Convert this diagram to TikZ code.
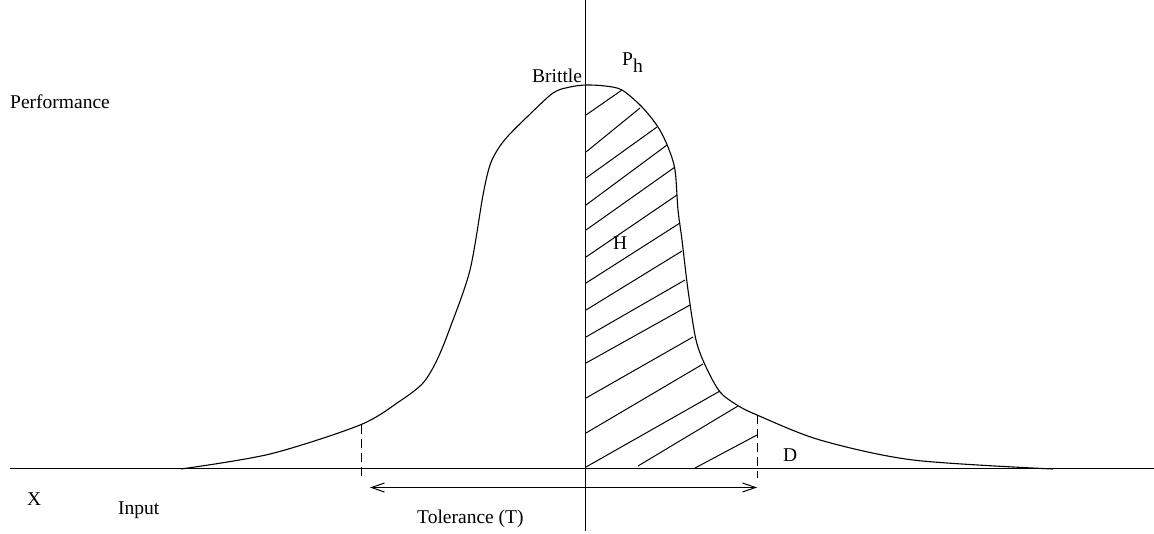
\documentclass[tikz,border=0pt]{standalone}
\usepackage{fontspec}
\setmainfont{Liberation Serif}
\usetikzlibrary{arrows.meta}
\begin{document}
\begin{tikzpicture}[x=1pt,y=-1pt,
  ln/.style={line width=1.1pt},
  hatch/.style={line width=1pt},
  dsh/.style={line width=1pt,dash pattern=on 9pt off 5pt},
  lbl/.style={inner sep=0pt,font=\fontsize{19.5}{23}\selectfont}]
\useasboundingbox (0,0) rectangle (1154,533);
% axes
\coordinate (xl) at (10,468.5);
\coordinate (xr) at (1154,468.5);
\coordinate (yt) at (585.5,0);
\coordinate (yb) at (585.5,531);
\draw[ln] (xl) -- (xr);
\draw[ln] (yt) -- (yb);
% curve
\draw[ln] plot[smooth,tension=0.5] coordinates {
 (181,469) (270,454) (360,425) (400,401) (423,383) (437,360) (450,328)
 (470,270) (483,195) (490,165) (498,149) (508,136) (527,117) (553,93)
 (570,87) (586,85) (605,86) (622,90) (642,107) (658,127)
 (668,147) (675,170) (678,210) (682,240) (688,290) (696,340) (706,367)
 (720,392) (737,405) (757,415) (820,440) (913,460) (1053,469)};
% hatching
\draw[hatch] (586,115)--(622,90) (586,152)--(640,108) (586,178)--(657,127)
 (586,205)--(667,145) (586,230)--(675,167) (586,257)--(677,195)
 (586,283)--(680,223) (586,310)--(682,251) (586,337)--(685,280)
 (586,363)--(690,305) (586,398)--(693,337) (586,433)--(703,364)
 (586,467)--(720,391) (638,466)--(738,406) (695,468)--(757,435);
% dashed
\coordinate (dl1) at (361,425);
\coordinate (dl2) at (361,478);
\coordinate (dr1) at (757,415);
\coordinate (dr2) at (757,478);
\draw[dsh] (dl1) -- (dl2);
\draw[dsh] (dr1) -- (dr2);
% tolerance arrow
\coordinate (ta) at (370,487.5);
\coordinate (tb) at (757,487.5);
\draw[line width=1pt,{Straight Barb[length=13pt,width=9pt]}-{Straight Barb[length=13pt,width=9pt]}] (ta) -- (tb);
% labels
\node[lbl,anchor=base west] (perf) at (10,108) {Performance};
\node[lbl,anchor=base west] (brit) at (532,82) {Brittle};
\node[lbl,anchor=base west] (ph) at (622,65) {P\raisebox{-7pt}{h}};
\node[lbl,anchor=base west] (hh) at (613,249) {H};
\node[lbl,anchor=base west] (dd) at (783,461) {D};
\node[lbl,anchor=base west] (xx) at (27,505) {X};
\node[lbl,anchor=base west] (inp) at (118,514) {Input};
\node[lbl,anchor=base west] (tol) at (417,523) {Tolerance (T)};
\end{tikzpicture}
\end{document}
